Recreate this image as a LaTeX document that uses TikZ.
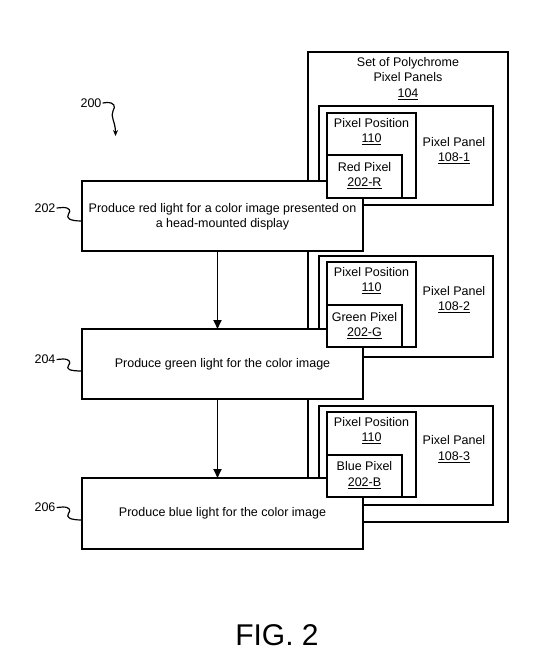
\documentclass[tikz,border=0pt]{standalone}
\usepackage{fontspec}
\setmainfont{Liberation Sans}
\usetikzlibrary{arrows.meta}
\begin{document}
\begin{tikzpicture}[x=1pt,y=-1pt,
  box/.style={draw=black, line width=1.8pt, fill=white, inner sep=0pt, outer sep=0pt, anchor=north west},
  txt/.style={font=\fontsize{12.5}{15.5}\selectfont, align=center, inner sep=0pt},
  lead/.style={draw=black, line width=1.2pt},
  arr/.style={draw=black, line width=1.8pt, -{Triangle[length=9pt,width=8pt]}}]
\useasboundingbox (0,0) rectangle (549,667);
% outer set
\node[box, minimum width=200, minimum height=470] (outer) at (308,52) {};
% panels
\node[box, minimum width=174, minimum height=99] (pan1) at (319,106) {};
\node[box, minimum width=174, minimum height=101] (pan2) at (319,256) {};
\node[box, minimum width=174, minimum height=99] (pan3) at (319,406) {};
% steps
\node[box, minimum width=281, minimum height=70] (s202) at (82,181) {};
\node[box, minimum width=281, minimum height=70] (s204) at (82,329) {};
\node[box, minimum width=281, minimum height=71] (s206) at (82,478) {};
% pixel positions
\node[box, minimum width=89, minimum height=85] (pos1) at (327,113) {};
\node[box, minimum width=89, minimum height=85] (pos2) at (327,262) {};
\node[box, minimum width=89, minimum height=85] (pos3) at (327,412) {};
% pixels
\node[box, minimum width=75, minimum height=43] (red) at (327,155) {};
\node[box, minimum width=75, minimum height=42] (green) at (327,305) {};
\node[box, minimum width=75, minimum height=42] (blue) at (327,455) {};
% texts
\node[txt] (t104) at (408,78.5) {Set of Polychrome\\Pixel Panels\\\underline{104}};
\node[txt] (tpos1) at (371.5,131.5) {Pixel Position\\\underline{110}};
\node[txt] (tpos2) at (371.5,280.5) {Pixel Position\\\underline{110}};
\node[txt] (tpos3) at (371.5,430.5) {Pixel Position\\\underline{110}};
\node[txt] (tpan1) at (454,150.5) {Pixel Panel\\\underline{108-1}};
\node[txt] (tpan2) at (454,299.5) {Pixel Panel\\\underline{108-2}};
\node[txt] (tpan3) at (454,449) {Pixel Panel\\\underline{108-3}};
\node[txt] (tred) at (364.5,175.5) {Red Pixel\\\underline{202-R}};
\node[txt] (tgreen) at (364.5,325.5) {Green Pixel\\\underline{202-G}};
\node[txt] (tblue) at (364.5,475) {Blue Pixel\\\underline{202-B}};
\node[txt] (ts202) at (222.5,217) {Produce red light for a color image presented on\\a head-mounted display};
\node[txt] (ts204) at (222.5,364) {Produce green light for the color image};
\node[txt] (ts206) at (222.5,513) {Produce blue light for the color image};
% labels
\node[txt] (l200) at (91,103) {200};
\node[txt] (l202) at (45,208) {202};
\node[txt] (l204) at (45,359.5) {204};
\node[txt] (l206) at (45,507.5) {206};
\node[font=\fontsize{30}{36}\selectfont, inner sep=0pt] (fig) at (277,635) {FIG. 2};
% leaders
\coordinate (c200) at (115.5,136);
\coordinate (e202) at (82,221);
\coordinate (e204) at (82,371);
\coordinate (e206) at (82,520);
\draw[lead, -{Stealth[length=6pt,width=5pt]}] ([xshift=1pt]l200.east) -- (107,102.5) .. controls (114,102.5) and (116,106) .. (113,111) .. controls (110,116) and (115.5,122) .. (c200);
\draw[lead] ([xshift=1pt]l202.east) -- (63,207.5) .. controls (70,207.5) and (71,211) .. (68.5,214) .. controls (66,218) and (69,221) .. (e202);
\draw[lead] ([xshift=1pt]l204.east) -- (63,359) .. controls (70,359) and (71,362.5) .. (68.5,365.5) .. controls (66,369) and (69,371) .. (e204);
\draw[lead] ([xshift=1pt]l206.east) -- (63,507) .. controls (70,507) and (71,510.5) .. (68.5,513.5) .. controls (66,517) and (69,520) .. (e206);
% arrows
\draw[arr] ([xshift=-5pt]s202.south) -- ([xshift=-5pt]s204.north);
\draw[arr] ([xshift=-5pt]s204.south) -- ([xshift=-5pt]s206.north);
\end{tikzpicture}
\end{document}
